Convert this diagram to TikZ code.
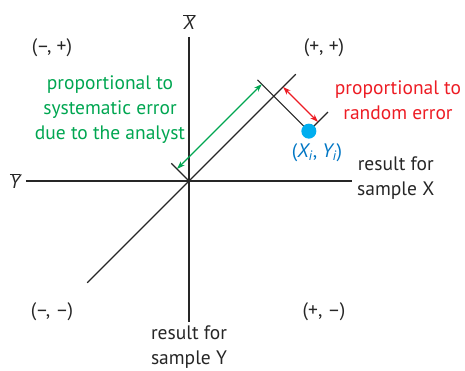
\documentclass[tikz,border=0pt]{standalone}
\usepackage{fontspec}
\setmainfont{PT Sans}
\usetikzlibrary{arrows.meta,positioning,calc}
\definecolor{sysgreen}{RGB}{0,166,81}
\definecolor{randred}{RGB}{237,28,36}
\definecolor{ptblue}{RGB}{0,118,196}
\definecolor{dotcyan}{RGB}{0,174,239}
\tikzset{
  axis/.style  = {draw=black!85, line width=1.2pt},
  ln/.style    = {draw=black!85, line width=1.1pt},
  lbl/.style   = {font=\fontsize{19.5}{25}\selectfont, inner sep=1pt, align=center},
  dimar/.style = {{Stealth[length=8pt,width=5.5pt]}-{Stealth[length=8pt,width=5.5pt]},
                  line width=1.2pt}
}

\begin{document}
\begin{tikzpicture}[
    x=1pt, y=1pt,
    quad/.style={lbl, text=black!85},
    sysl/.style={lbl, text=sysgreen},
    randl/.style={lbl, text=randred}
  ]
  \useasboundingbox (-189,-190) rectangle (276,181);

  % ===================== 坐标轴 =====================
  \coordinate (O) at (0,0);
  \coordinate (yTop) at (0,144);
  \coordinate (yBot) at (0,-141);
  \coordinate (xLeft) at (-163,0);
  \coordinate (xRight) at (163,0);
  \draw[axis] (yTop) -- (yBot);
  \draw[axis] (xLeft) -- (xRight);

  \node[quad] (xbar) at (0,159) {$\overline{\mbox{\itshape X}}$};
  \node[quad] (ybar) at (-174,0) {$\overline{\mbox{\itshape Y}}$};
  \node[quad, anchor=west] (resX) at (167,3) {result for\\sample X};
  \node[quad] (resY) at (0,-166) {result for\\sample Y};

  \node[quad] (qmp) at (-137,133) {(–, +)};
  \node[quad] (qpp) at (135,133) {(+, +)};
  \node[quad] (qmm) at (-137,-131) {(–, –)};
  \node[quad] (qpm) at (135,-131) {(+, –)};

  % ===================== 对角线与垂线（旋转坐标） =====================
  \begin{scope}[rotate=45]
    \coordinate (dLow) at (-144,0);
    \coordinate (dHigh) at (151,0);
    \coordinate (oTick) at (0,25);
    \coordinate (foot) at (120,0);
    \coordinate (perpTop) at (120,23);
    \coordinate (Pi) at (120,-49.5);
    \coordinate (piTick) at (147,-49.5);
    \coordinate (sysA) at (0,17);
    \coordinate (sysB) at (120,17);
    \coordinate (randA) at (133,0);
    \coordinate (randB) at (133,-49.5);
  \end{scope}

  \draw[ln] (dLow) -- (dHigh);
  \draw[ln] (O) -- (oTick);
  \draw[ln] (perpTop) -- (Pi) -- (piTick);

  % ===================== 误差箭头 =====================
  \draw[dimar, sysgreen] (sysA) -- (sysB);
  \draw[dimar, randred] (randA) -- (randB);

  \fill[dotcyan] (Pi) circle (7.5);
  \node[lbl, text=ptblue] (piLab) at (128,28)
    {(\textit{X\textsubscript{i}}, \textit{Y\textsubscript{i}})};

  \node[sysl] (sysLab) at (-79,71)
    {proportional to\\systematic error\\due to the analyst};
  \node[randl] (randLab) at (209,81)
    {proportional to\\random error};
\end{tikzpicture}
\end{document}
